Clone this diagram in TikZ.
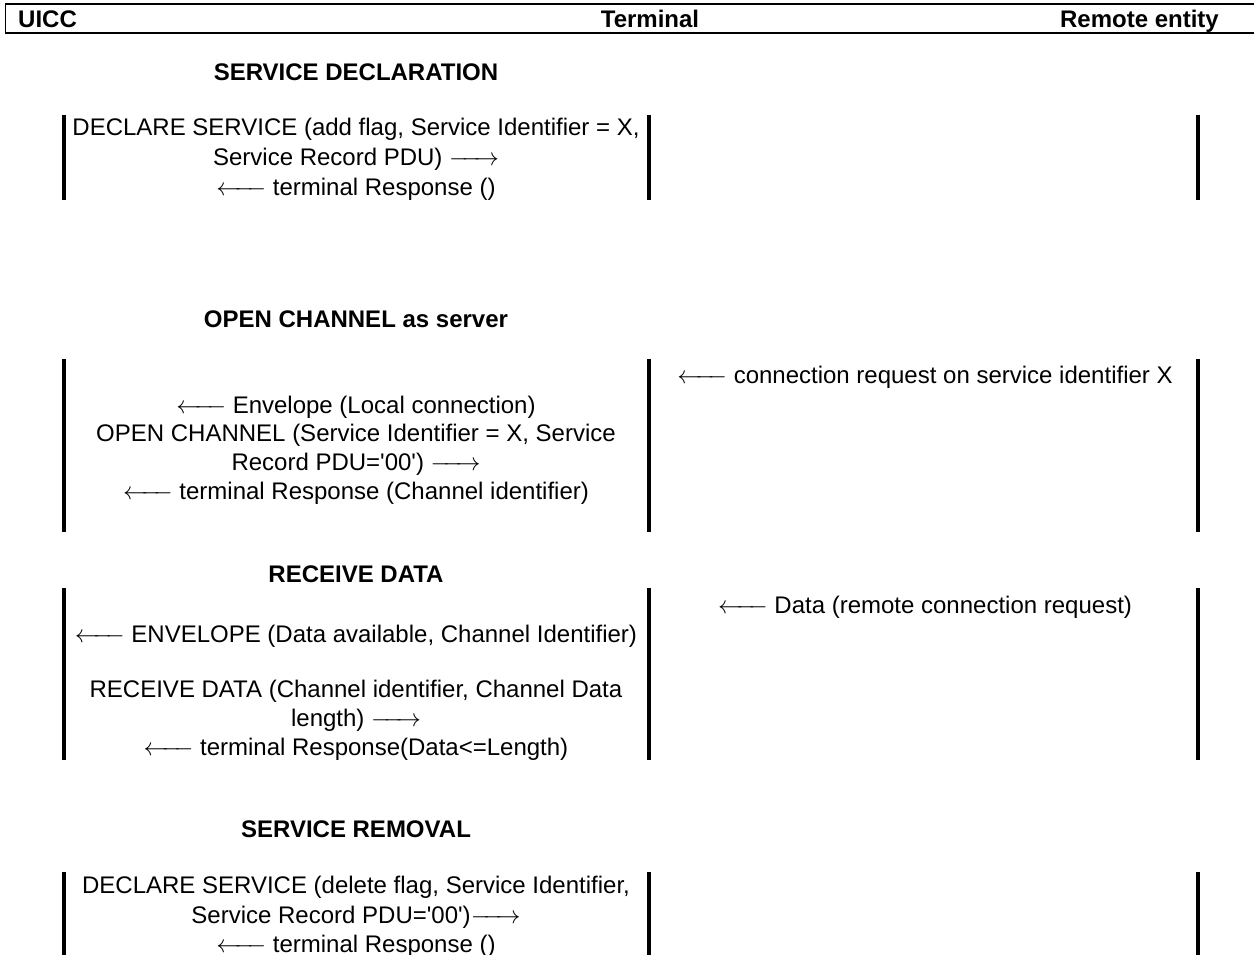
\documentclass[tikz,border=0pt]{standalone}
\usepackage{fontspec}
\setmainfont{Liberation Sans}
\newcommand{\la}{$\mathrel{\leftarrow\mkern-5mu\relbar\mkern-5mu\relbar}$}
\newcommand{\ra}{$\mathrel{\relbar\mkern-5mu\relbar\mkern-5mu\rightarrow}$}
\newcommand{\q}{\textquotesingle}
\begin{document}
\begin{tikzpicture}[x=1pt,y=-1pt,
  txt/.style={inner sep=0pt,anchor=base,font=\fontsize{24}{29}\selectfont},
  ttl/.style={inner sep=0pt,anchor=base,font=\fontsize{24}{29}\selectfont\bfseries},
  bar/.style={line width=3.2pt},
  hline/.style={line width=1.8pt}]
\useasboundingbox (0,0) rectangle (1254,955);
% header
\draw[hline] (5,4) -- (1254,4);
\draw[hline] (5.5,4) -- (5.5,33);
\draw[line width=2.2pt] (5,33) -- (1254,33);
\node[ttl,anchor=base west] (hU) at (18,28) {UICC};
\node[ttl] (hT) at (650,28) {Terminal};
\node[ttl,anchor=base east] (hR) at (1219,28) {Remote entity};
% section 1
\node[ttl] (t1) at (356,81) {SERVICE DECLARATION};
\draw[bar] (64,115) -- (64,200);
\draw[bar] (649,115) -- (649,200);
\draw[bar] (1198,115) -- (1198,200);
\node[txt] (a1) at (356,136) {DECLARE SERVICE (add flag, Service Identifier = X,};
\node[txt] (a2) at (356,166) {Service Record PDU) \ra};
\node[txt] (a3) at (356,196) {\la{} terminal Response ()};
% section 2
\node[ttl] (t2) at (356,327) {OPEN CHANNEL as server};
\draw[bar] (64,359) -- (64,532);
\draw[bar] (649,359) -- (649,532);
\draw[bar] (1198,359) -- (1198,532);
\node[txt] (b0) at (925,383) {\la{} connection request on service identifier X};
\node[txt] (b1) at (356,413) {\la{} Envelope (Local connection)};
\node[txt] (b2) at (356,441) {OPEN CHANNEL (Service Identifier = X, Service};
\node[txt] (b3) at (356,470) {Record PDU=\q00\q) \ra};
\node[txt] (b4) at (356,499) {\la{} terminal Response (Channel identifier)};
% section 3
\node[ttl] (t3) at (356,582) {RECEIVE DATA};
\draw[bar] (64,588) -- (64,760);
\draw[bar] (649,588) -- (649,760);
\draw[bar] (1198,588) -- (1198,760);
\node[txt] (c0) at (925,613) {\la{} Data (remote connection request)};
\node[txt] (c1) at (356,642) {\la{} ENVELOPE (Data available, Channel Identifier)};
\node[txt] (c2) at (356,697) {RECEIVE DATA (Channel identifier, Channel Data};
\node[txt] (c3) at (356,726) {length) \ra};
\node[txt] (c4) at (356,755) {\la{} terminal Response(Data<=Length)};
% section 4
\node[ttl] (t4) at (356,837) {SERVICE REMOVAL};
\draw[bar] (64,872) -- (64,955);
\draw[bar] (649,872) -- (649,955);
\draw[bar] (1198,872) -- (1198,955);
\node[txt] (d1) at (356,893) {DECLARE SERVICE (delete flag, Service Identifier,};
\node[txt] (d2) at (356,923) {Service Record PDU=\q00\q)\ra};
\node[txt] (d3) at (356,952) {\la{} terminal Response ()};
\end{tikzpicture}
\end{document}
